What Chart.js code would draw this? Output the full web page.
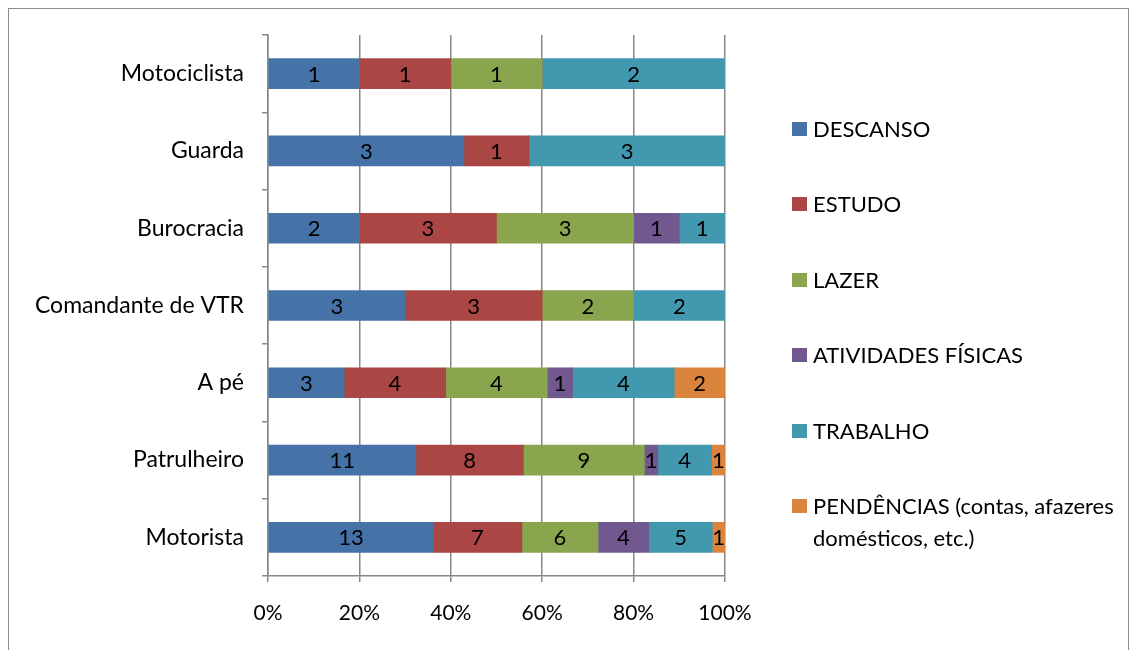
<!DOCTYPE html>
<html>
<head>
<meta charset="utf-8">
<script src="https://cdn.jsdelivr.net/npm/chart.js@4"></script>
<style>
  body { margin: 0; background: #fff; }
  #wrap { position: relative; width: 1132px; height: 650px; overflow: hidden; font-family: Lato, "Open Sans", sans-serif; }
  #frame { position: absolute; left: 8px; top: 8px; width: 1121px; height: 660px; border: 1px solid #8c8c8c; box-sizing: border-box; }
  #chart { position: absolute; left: 0; top: 0; }
  #legend { position: absolute; left: 792px; top: 0; }
  .item { position: absolute; left: 0; width: 340px; font-size: 22px; color: #000; line-height: 32px; }
  .item .sw { position: absolute; left: 0; top: 9px; width: 15px; height: 14px; }
  .item .tx { position: absolute; left: 21px; top: 0; white-space: nowrap; }
</style>
</head>
<body>
<div id="wrap">
  <div id="frame"></div>
  <canvas id="chart" width="1132" height="650"></canvas>
  <div id="legend"></div>
</div>
<script>
"use strict";

// Categories, top to bottom as in the picture.
const CATEGORIES = ["Motociclista", "Guarda", "Burocracia", "Comandante de VTR", "A pé", "Patrulheiro", "Motorista"];

// Raw counts per activity (shown as labels); bars are drawn as share of the row total.
const DESCANSO = [1, 3, 2, 3, 3, 11, 13];
const ESTUDO = [1, 1, 3, 3, 4, 8, 7];
const LAZER = [1, 0, 3, 2, 4, 9, 6];
const ATIVIDADES = [0, 0, 1, 0, 1, 1, 4];
const TRABALHO = [2, 3, 1, 2, 4, 4, 5];
const PENDENCIAS = [0, 0, 0, 0, 2, 1, 1];

const X_TICKS = [0, 20, 40, 60, 80, 100];

const SERIES = [
  { label: "DESCANSO", counts: DESCANSO, color: "#4572A7" },
  { label: "ESTUDO", counts: ESTUDO, color: "#AA4643" },
  { label: "LAZER", counts: LAZER, color: "#89A54E" },
  { label: "ATIVIDADES FÍSICAS", counts: ATIVIDADES, color: "#71588F" },
  { label: "TRABALHO", counts: TRABALHO, color: "#4198AF" },
  { label: "PENDÊNCIAS (contas, afazeres domésticos, etc.)", counts: PENDENCIAS, color: "#DB843D" },
];

const totals = CATEGORIES.map((_, i) => SERIES.reduce((s, d) => s + d.counts[i], 0));

const FONT = "Lato, 'Open Sans', sans-serif";
const GRAY = "#878787";

// Draws the raw count in the middle of each non-empty segment.
const countLabels = {
  id: "countLabels",
  afterDatasetsDraw(chart) {
    const ctx = chart.ctx;
    ctx.save();
    ctx.font = "22px " + FONT;
    ctx.fillStyle = "#000";
    ctx.textAlign = "center";
    ctx.textBaseline = "middle";
    chart.data.datasets.forEach((ds, di) => {
      const meta = chart.getDatasetMeta(di);
      meta.data.forEach((bar, i) => {
        const n = ds.counts[i];
        if (!n) return;
        ctx.fillText(String(n), (bar.x + bar.base) / 2, bar.y + 1);
      });
    });
    ctx.restore();
  },
};

new Chart(document.getElementById("chart"), {
  type: "bar",
  data: {
    labels: CATEGORIES,
    datasets: SERIES.map((s) => ({
      label: s.label,
      counts: s.counts,
      data: s.counts.map((c, i) => (c / totals[i]) * 100),
      backgroundColor: s.color,
      borderWidth: 0,
      barThickness: 30,
    })),
  },
  options: {
    indexAxis: "y",
    responsive: false,
    animation: false,
    layout: { padding: { top: 35, right: 407, left: 0, bottom: 0 } },
    plugins: { legend: { display: false }, tooltip: { enabled: false } },
    scales: {
      x: {
        stacked: true,
        min: 0,
        max: 100,
        afterBuildTicks: (axis) => { axis.ticks = X_TICKS.map((v) => ({ value: v })); },
        afterFit: (axis) => { axis.height = 74; },
        ticks: { color: "#000", font: { family: FONT, size: 21 }, padding: 19, maxRotation: 0, callback: (v) => v + "%" },
        grid: { color: GRAY, lineWidth: 1.5, tickLength: 6 },
        border: { color: GRAY, width: 1.5 },
      },
      y: {
        stacked: true,
        afterFit: (axis) => { axis.width = 268; },
        ticks: { color: "#000", font: { family: FONT, size: 23 }, padding: 18 },
        grid: { drawOnChartArea: false, color: GRAY, lineWidth: 1.5, tickLength: 6 },
        border: { color: GRAY, width: 1.5 },
      },
    },
  },
  plugins: [countLabels],
});

// Legend on the right, one item per series.
const LEGEND_TOPS = [113, 188, 264, 339, 415, 490];
const legend = document.getElementById("legend");
SERIES.forEach((s, i) => {
  const item = document.createElement("div");
  item.className = "item";
  item.style.top = LEGEND_TOPS[i] + "px";
  const sw = document.createElement("span");
  sw.className = "sw";
  sw.style.background = s.color;
  const tx = document.createElement("span");
  tx.className = "tx";
  if (i === SERIES.length - 1) {
    tx.innerHTML = "PENDÊNCIAS (contas, afazeres<br>domésticos, etc.)";
  } else {
    tx.textContent = s.label;
  }
  item.appendChild(sw);
  item.appendChild(tx);
  legend.appendChild(item);
});
</script>
</body>
</html>
